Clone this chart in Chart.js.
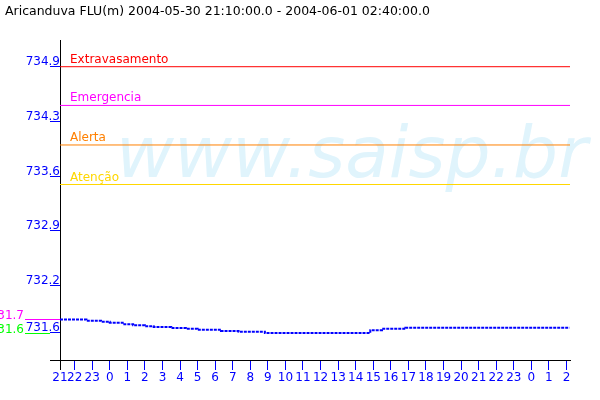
<!DOCTYPE html>
<html>
<head>
<meta charset="utf-8">
<script src="https://cdn.jsdelivr.net/npm/chart.js@4.4.1/dist/chart.umd.min.js"></script>
<style>
  body { margin: 0; background: #fff; }
</style>
</head>
<body>
<canvas id="grafico" width="600" height="400"></canvas>
<script>
//titulo do grafico
const TITULO = "Aricanduva FLU(m) 2004-05-30 21:10:00.0 - 2004-06-01 02:40:00.0";

//horas contadas a partir de 2004-05-30 00:00 em que o nivel muda
const horas = [21.1667, 22.67, 23.5, 24, 24.83, 25.33, 26, 26.5, 27.5, 28.33, 29, 30.33, 31.33, 32.83, 38.83, 39.5, 40.83, 50.17];
//nivel (m) a partir de cada hora
const niveis = [731.767, 731.752, 731.739, 731.726, 731.709, 731.695, 731.683, 731.674, 731.662, 731.653, 731.641, 731.625, 731.616, 731.600, 731.635, 731.653, 731.666, 731.666];

//cotas de referencia
const cotasNomes = ["Extravasamento", "Emergencia", "Alerta", "Atenção"];
const cotasValores = [734.90, 734.42, 733.93, 733.44];
const cotasCores = ["#ff0000", "#ff00ff", "#ff8000", "#ffd700"];

//eixo y
const yTicks = [731.265, 731.6, 732.186, 732.864, 733.537, 734.221, 734.9];
const yTickLabels = ["", "731.6", "732.2", "732.9", "733.6", "734.3", "734.9"];
const Y_MIN = 731.265;
const Y_MAX = 735.231;

//eixo x (horas)
const xTicks = [21.1667, 22, 23, 24, 25, 26, 27, 28, 29, 30, 31, 32, 33, 34, 35, 36, 37, 38, 39, 40, 41, 42, 43, 44, 45, 46, 47, 48, 49, 50];
const xTickLabels = ["21", "22", "23", "0", "1", "2", "3", "4", "5", "6", "7", "8", "9", "10", "11", "12", "13", "14", "15", "16", "17", "18", "19", "20", "21", "22", "23", "0", "1", "2"];
const X_MIN = 21.1667;
const X_MAX = 50.2;

const AZUL = "#0000ff";
const FONTE = "DejaVu Sans";

//marca d'agua atras das linhas
const marcaDagua = {
  id: "marcaDagua",
  beforeDatasetsDraw(chart) {
    const ctx = chart.ctx;
    ctx.save();
    ctx.font = "oblique 71px '" + FONTE + "'";
    ctx.fillStyle = "#e0f4fc";
    ctx.textBaseline = "alphabetic";
    ctx.fillText("www.saisp.br", 116, 177);
    ctx.restore();
  }
};

//nome de cada cota acima da linha
const nomesCotas = {
  id: "nomesCotas",
  afterDatasetsDraw(chart) {
    const ctx = chart.ctx;
    const y = chart.scales.y;
    ctx.save();
    ctx.font = "12px '" + FONTE + "'";
    ctx.textBaseline = "alphabetic";
    cotasNomes.forEach((nome, i) => {
      ctx.fillStyle = cotasCores[i];
      ctx.fillText(nome, chart.chartArea.left + 10, Math.round(y.getPixelForValue(cotasValores[i])) - 4);
    });
    ctx.restore();
  }
};

//maximo e minimo do periodo, a esquerda do eixo
const maxMin = {
  id: "maxMin",
  afterDraw(chart) {
    const ctx = chart.ctx;
    const y = chart.scales.y;
    const esq = chart.chartArea.left;
    const maximo = Math.max(...niveis);
    const minimo = Math.min(...niveis);
    const marcas = [
      { valor: maximo, cor: "#ff00ff", fim: esq },
      { valor: minimo, cor: "#00ff00", fim: esq - 10 },
    ];
    ctx.save();
    ctx.font = "12px '" + FONTE + "'";
    ctx.textAlign = "right";
    ctx.textBaseline = "alphabetic";
    marcas.forEach((m) => {
      const py = Math.round(y.getPixelForValue(m.valor)) + 0.5;
      ctx.strokeStyle = m.cor;
      ctx.lineWidth = 1;
      ctx.beginPath();
      ctx.moveTo(25, py);
      ctx.lineTo(m.fim, py);
      ctx.stroke();
      ctx.fillStyle = m.cor;
      ctx.fillText((Math.floor(m.valor * 10) / 10).toFixed(1), 24, py - 1);
    });
    ctx.restore();
  }
};

const corTick = (c) => (c.index === 0 ? "#000000" : AZUL);

const datasets = cotasValores.map((v, i) => ({
  label: cotasNomes[i],
  data: [{ x: X_MIN, y: v }, { x: X_MAX, y: v }],
  borderColor: cotasCores[i],
  borderWidth: 1,
  pointRadius: 0,
}));

datasets.push({
  label: "nivel",
  data: horas.map((h, i) => ({ x: h, y: niveis[i] })),
  borderColor: AZUL,
  borderWidth: 2,
  borderDash: [3, 1],
  stepped: true,
  pointRadius: 0,
});

const grafico = new Chart(document.getElementById("grafico").getContext("2d"), {
  type: "line",
  data: { datasets },
  plugins: [marcaDagua, nomesCotas, maxMin],
  options: {
    responsive: false,
    animation: false,
    devicePixelRatio: 1,
    events: [],
    layout: { padding: { left: 5, right: 30, top: 0, bottom: 0 } },
    plugins: {
      legend: { display: false },
      tooltip: { enabled: false },
      title: {
        display: true,
        text: TITULO,
        align: "start",
        color: "#000000",
        font: { family: FONTE, size: 12.5, weight: "normal" },
        padding: { top: 4, bottom: 21 },
      },
    },
    scales: {
      x: {
        type: "linear",
        min: X_MIN,
        max: X_MAX,
        afterBuildTicks: (s) => { s.ticks = xTicks.map((v) => ({ value: v })); },
        afterFit: (s) => { s.height = 40; },
        grid: { drawOnChartArea: false, tickLength: 10, color: corTick },
        border: { color: "#000000" },
        ticks: {
          autoSkip: false,
          maxRotation: 0,
          padding: 1,
          color: AZUL,
          font: { family: FONTE, size: 12 },
          callback: (v, i) => xTickLabels[i],
        },
      },
      y: {
        type: "linear",
        min: Y_MIN,
        max: Y_MAX,
        afterBuildTicks: (s) => { s.ticks = yTicks.map((v) => ({ value: v })); },
        afterFit: (s) => { s.width = 55; },
        grid: { drawOnChartArea: false, tickLength: 10, color: corTick },
        border: { color: "#000000" },
        ticks: {
          autoSkip: false,
          padding: -10,
          labelOffset: -5,
          color: AZUL,
          font: { family: FONTE, size: 12 },
          callback: (v, i) => yTickLabels[i],
        },
      },
    },
  },
});
</script>
</body>
</html>
